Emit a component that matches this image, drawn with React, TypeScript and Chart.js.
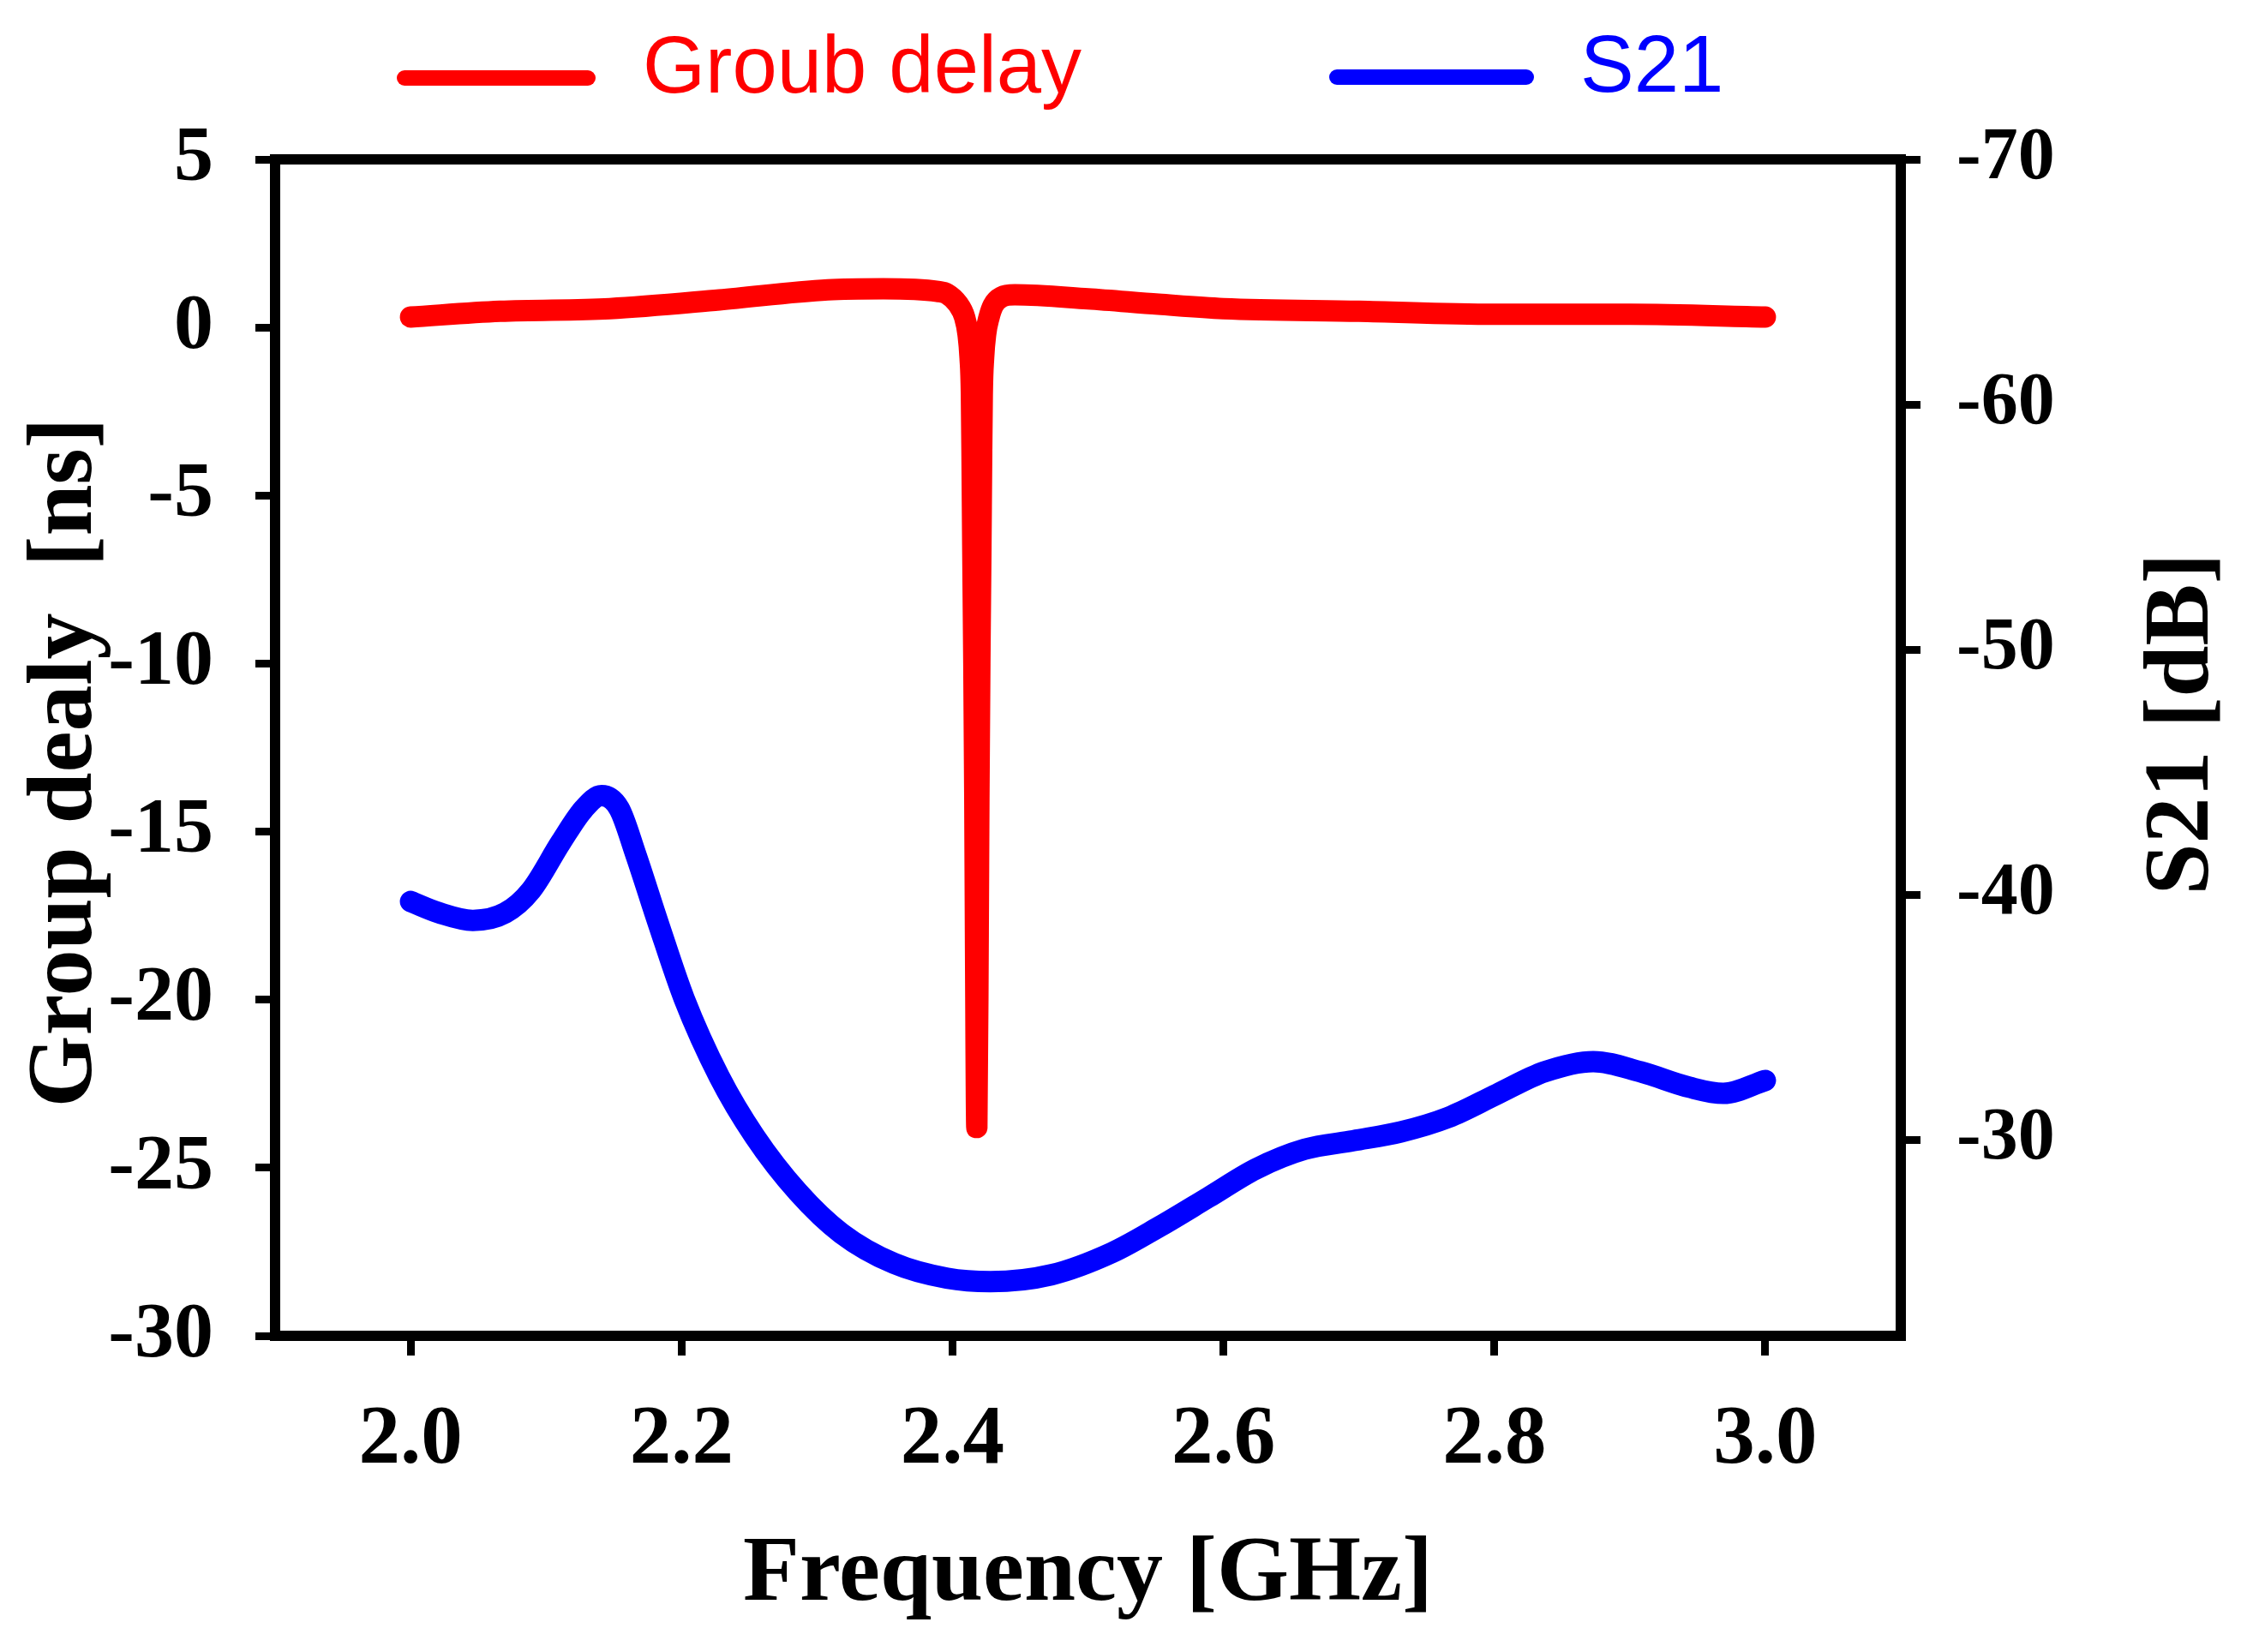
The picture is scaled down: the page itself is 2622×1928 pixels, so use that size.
import React, { useEffect, useRef } from 'react';
import { Chart, registerables } from 'chart.js';

Chart.register(...registerables);

// group delay [ns] vs frequency [GHz]
const gdFreq = [
  2.0, 2.066, 2.147, 2.228, 2.308, 2.349, 2.389, 2.396, 2.404, 2.409,
  2.4115, 2.413, 2.414, 2.4145, 2.415, 2.4158, 2.4165, 2.417, 2.418,
  2.419, 2.4195, 2.4202, 2.421, 2.4215, 2.422, 2.423, 2.4245, 2.427,
  2.43, 2.436, 2.446, 2.5, 2.552, 2.6, 2.7, 2.8, 2.9, 3.0,
];
const gdValues = [
  0.31, 0.48, 0.56, 0.82, 1.12, 1.15, 1.07, 1.0, 0.7, 0.3,
  -0.2, -0.9, -2.0, -4.0, -6.5, -10, -14, -18, -23.8,
  -18, -14, -10, -6.5, -4.0, -2.0, -0.9, -0.2, 0.3,
  0.65, 0.9, 0.97, 0.85, 0.69, 0.56, 0.48, 0.39, 0.39, 0.31,
];

// S21 [dB] vs frequency [GHz]
const s21Freq = [
  2.0, 2.021, 2.046, 2.07, 2.089, 2.111, 2.128, 2.141, 2.154, 2.166,
  2.183, 2.202, 2.228, 2.254, 2.286, 2.318, 2.357, 2.396, 2.428, 2.473,
  2.518, 2.553, 2.589, 2.624, 2.66, 2.696, 2.731, 2.766, 2.802, 2.837,
  2.873, 2.908, 2.944, 2.969, 3.0,
];
const s21Values = [
  -39.72, -39.26, -38.95, -39.26, -40.18, -42.14, -43.51, -44.04, -43.51, -41.68,
  -38.81, -35.75, -32.56, -30.14, -27.86, -26.18, -24.95, -24.35, -24.21, -24.49,
  -25.4, -26.46, -27.65, -28.81, -29.61, -29.96, -30.32, -30.91, -31.86, -32.77,
  -33.19, -32.77, -32.14, -31.89, -32.42,
];

const xTicks = [2.0, 2.2, 2.4, 2.6, 2.8, 3.0];
const gdTicks = [5, 0, -5, -10, -15, -20, -25, -30];
const s21Ticks = [-70, -60, -50, -40, -30];

const seriesNames = ['Groub delay', 'S21'];
const seriesColors = ['#ff0000', '#0000ff'];

const SERIF = '"Liberation Serif", "Times New Roman", serif';
const SANS = '"Liberation Sans", Arial, sans-serif';

// legend placement (line start, line end, text x)
const legendSpots = [
  { x1: 472, x2: 686, y: 91, tx: 750, ty: 108 },
  { x1: 1560, x2: 1781, y: 90, tx: 1844, ty: 107 },
];

const decor = {
  id: 'decor',
  beforeDatasetsDraw(chart: any) {
    const { ctx, chartArea: a } = chart;
    ctx.save();
    ctx.lineWidth = 12;
    ctx.strokeStyle = '#000';
    ctx.strokeRect(a.left, a.top, a.right - a.left, a.bottom - a.top);
    ctx.restore();
  },
  afterDraw(chart: any) {
    const { ctx } = chart;
    ctx.save();
    chart.data.datasets.forEach((ds: any, i: number) => {
      const s = legendSpots[i];
      ctx.strokeStyle = ds.borderColor;
      ctx.lineWidth = 18;
      ctx.lineCap = 'round';
      ctx.beginPath();
      ctx.moveTo(s.x1, s.y);
      ctx.lineTo(s.x2, s.y);
      ctx.stroke();
      ctx.fillStyle = ds.borderColor;
      ctx.font = `94px ${SANS}`;
      ctx.textAlign = 'left';
      ctx.textBaseline = 'alphabetic';
      ctx.fillText(ds.label, s.tx, s.ty);
    });

    // vertical axis titles, both reading bottom to top
    ctx.fillStyle = '#000';
    ctx.font = `bold 108px ${SERIF}`;
    ctx.textAlign = 'center';
    ctx.textBaseline = 'middle';
    ctx.translate(78, 890);
    ctx.rotate(-Math.PI / 2);
    ctx.fillText('Group dealy  [ns]', 0, 0);
    ctx.setTransform(1, 0, 0, 1, 0, 0);
    const dpr = chart.currentDevicePixelRatio || 1;
    ctx.scale(dpr, dpr);
    ctx.translate(2548, 845);
    ctx.rotate(-Math.PI / 2);
    ctx.fillText('S21 [dB]', 0, 0);
    ctx.restore();
  },
};

const tickGrid = {
  display: true,
  drawOnChartArea: false,
  drawTicks: true,
  tickLength: 23,
  tickWidth: 9,
  tickColor: '#000',
};

const App: React.FC = () => {
  const canvasRef = useRef<HTMLCanvasElement>(null);

  useEffect(() => {
    document.body.style.margin = '0';
    const chart = new Chart(canvasRef.current as HTMLCanvasElement, {
      type: 'line',
      data: {
        datasets: [
          {
            label: seriesNames[0],
            data: gdFreq.map((f, i) => ({ x: f, y: gdValues[i] })),
            borderColor: seriesColors[0],
            backgroundColor: seriesColors[0],
            borderWidth: 25,
            borderCapStyle: 'round',
            borderJoinStyle: 'round',
            pointRadius: 0,
            cubicInterpolationMode: 'monotone',
            yAxisID: 'y',
          },
          {
            label: seriesNames[1],
            data: s21Freq.map((f, i) => ({ x: f, y: s21Values[i] })),
            borderColor: seriesColors[1],
            backgroundColor: seriesColors[1],
            borderWidth: 25,
            borderCapStyle: 'round',
            borderJoinStyle: 'round',
            pointRadius: 0,
            cubicInterpolationMode: 'monotone',
            yAxisID: 'y1',
          },
        ],
      },
      options: {
        responsive: false,
        animation: false,
        events: [],
        layout: { padding: { top: 186, left: 0, right: 0, bottom: 0 } },
        plugins: {
          legend: { display: false },
          tooltip: { enabled: false },
        },
        scales: {
          x: {
            type: 'linear',
            min: 1.9,
            max: 3.1,
            border: { display: false },
            grid: tickGrid,
            afterBuildTicks: (s: any) => {
              s.ticks = xTicks.map((v) => ({ value: v }));
            },
            afterFit: (s: any) => {
              s.height = 369;
            },
            ticks: {
              color: '#000',
              padding: 42,
              maxRotation: 0,
              font: { family: SERIF, size: 97, weight: 'bold' },
              callback: (v: any) => Number(v).toFixed(1),
            },
            title: {
              display: true,
              text: 'Frequency [GHz]',
              color: '#000',
              padding: { top: 0, bottom: 24 },
              font: { family: SERIF, size: 108, weight: 'bold' },
            },
          },
          y: {
            type: 'linear',
            position: 'left',
            min: -30,
            max: 5,
            border: { display: false },
            grid: tickGrid,
            afterBuildTicks: (s: any) => {
              s.ticks = gdTicks.map((v) => ({ value: v }));
            },
            afterFit: (s: any) => {
              s.width = 321;
            },
            ticks: {
              color: '#000',
              padding: 49,
              font: { family: SERIF, size: 92, weight: 'bold' },
            },
          },
          y1: {
            type: 'linear',
            position: 'right',
            min: -70,
            max: -22,
            reverse: true,
            border: { display: false },
            grid: tickGrid,
            afterBuildTicks: (s: any) => {
              s.ticks = s21Ticks.map((v) => ({ value: v }));
            },
            afterFit: (s: any) => {
              s.width = 404;
            },
            ticks: {
              color: '#000',
              padding: 42,
              font: { family: SERIF, size: 86, weight: 'bold' },
            },
          },
        },
      },
      plugins: [decor],
    } as any);

    return () => {
      chart.destroy();
    };
  }, []);

  return (
    <div style={{ width: 2622, height: 1928, background: '#fff' }}>
      <canvas ref={canvasRef} width={2622} height={1928} />
    </div>
  );
};

export default App;
